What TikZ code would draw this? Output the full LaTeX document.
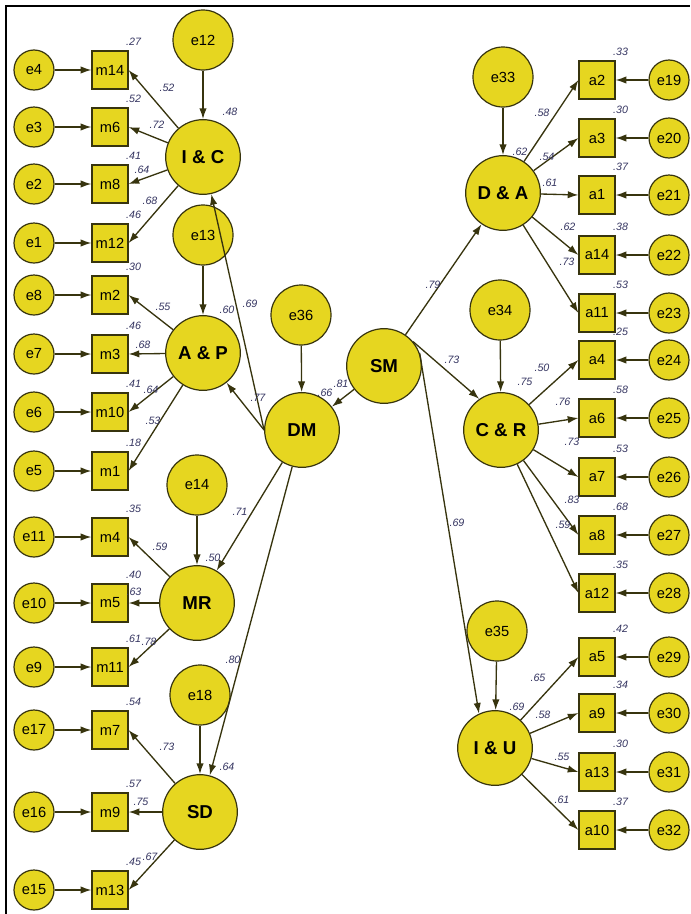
\documentclass[tikz,border=0pt]{standalone}
\usepackage{fontspec}
\setsansfont{Liberation Sans}
\usetikzlibrary{arrows.meta}
\definecolor{amosfill}{RGB}{230,214,32}
\definecolor{amosline}{RGB}{55,52,14}
\definecolor{amoslbl}{RGB}{52,52,96}
\tikzset{
  latent/.style={circle,draw=amosline,fill=amosfill,line width=0.9pt,minimum size=56pt,inner sep=0pt,font=\sffamily\bfseries\fontsize{14}{14}\selectfont},
  errbig/.style={circle,draw=amosline,fill=amosfill,line width=0.9pt,minimum size=45pt,inner sep=0pt,font=\sffamily\fontsize{11}{11}\selectfont},
  errsm/.style={errbig,minimum size=30pt},
  obs/.style={rectangle,draw=amosline,fill=amosfill,line width=0.9pt,minimum width=27pt,minimum height=28.5pt,inner sep=0pt,font=\sffamily\fontsize{11}{11}\selectfont},
  lbl/.style={font=\sffamily\itshape\fontsize{8}{8}\selectfont,text=amoslbl,inner sep=0pt},
  reg/.style={->,draw=amosline,line width=1pt}
}

\begin{document}
\begin{tikzpicture}[x=0.75pt,y=-0.75pt,>={Latex[length=8pt,width=5.5pt]}]
\useasboundingbox (0,0) rectangle (690,914);
%frame
\draw[line width=1.5pt] (6,914) -- (6,6) -- (690,6);
%latent variables
\node[latent] (IC) at (203,157) {I \& C};
\node[latent] (AP) at (203,353) {A \& P};
\node[latent] (MR) at (197,603) {MR};
\node[latent] (SD) at (200,812) {SD};
\node[latent] (DM) at (302,430) {DM};
\node[latent] (SM) at (384,366) {SM};
\node[latent] (DA) at (503,193) {D \& A};
\node[latent] (CR) at (501,430) {C \& R};
\node[latent] (IU) at (495,748) {I \& U};
%disturbances
\node[errbig] (e12) at (203,40) {e12};
\node[errbig] (e13) at (203,235) {e13};
\node[errbig] (e14) at (197,485) {e14};
\node[errbig] (e18) at (200,695) {e18};
\node[errbig] (e36) at (301,315) {e36};
\node[errbig] (e33) at (503,77) {e33};
\node[errbig] (e34) at (500,310) {e34};
\node[errbig] (e35) at (497,631) {e35};
\foreach \d/\f in {e12/IC,e13/AP,e14/MR,e18/SD,e36/DM,e33/DA,e34/CR,e35/IU}
\draw[reg] (\d) -- (\f);
%left indicators
\foreach \m/\e/\y/\rsq in {m14/e4/70/.27,m6/e3/127/.52,m8/e2/184/.41,m12/e1/243/.46,
  m2/e8/295/.30,m3/e7/354/.46,m10/e6/412/.41,m1/e5/471/.18,m4/e11/537/.35,
  m5/e10/603/.40,m11/e9/667/.61,m7/e17/730/.54,m9/e16/812/.57,m13/e15/890/.45}{
  \node[obs] (\m) at (110,\y) {\m};
  \node[errsm] (\e) at (34,\y) {\e};
  \draw[reg] (\e) -- (\m);
  \path (\m.north east) ++(5,-9) node[lbl] {\rsq};
}
%right indicators
\foreach \m/\e/\y/\rsq in {a2/e19/80/.33,a3/e20/138/.30,a1/e21/195/.37,a14/e22/255/.38,
  a11/e23/313/.53,a4/e24/360/.25,a6/e25/418/.58,a7/e26/477/.53,a8/e27/535/.68,
  a12/e28/593/.35,a5/e29/657/.42,a9/e30/713/.34,a13/e31/772/.30,a10/e32/830/.37}{
  \node[obs] (\m) at (597,\y) {\m};
  \node[errsm] (\e) at (669,\y) {\e};
  \draw[reg] (\e) -- (\m);
  \path (\m.north east) ++(5,-9) node[lbl] {\rsq};
}
%loadings
\foreach \f/\m/\lx/\ly/\v in {IC/m14/167/88/.52,IC/m6/157/125/.72,IC/m8/142/170/.64,IC/m12/150/201/.68,
  AP/m2/163/307/.55,AP/m3/143/345/.68,AP/m10/151/390/.64,AP/m1/153/421/.53,
  MR/m4/160/547/.59,MR/m5/134/592/.63,MR/m11/149/642/.78,
  SD/m7/167/747/.73,SD/m9/141/802/.75,SD/m13/150/857/.67}{
  \draw[reg] (\f) -- (\m.east);
  \node[lbl] at (\lx,\ly) {\v};
}
\foreach \f/\m/\lx/\ly/\v in {DA/a2/542/113/.58,DA/a3/547/157/.54,DA/a1/550/183/.61,DA/a14/568/227/.62,DA/a11/567/262/.73,
  CR/a4/542/368/.50,CR/a6/563/402/.76,CR/a7/572/442/.73,CR/a8/572/500/.83,CR/a12/563/525/.59,
  IU/a5/538/678/.65,IU/a9/543/715/.58,IU/a13/562/757/.55,IU/a10/562/800/.61}{
  \draw[reg] (\f) -- (\m.west);
  \node[lbl] at (\lx,\ly) {\v};
}
%structural paths
\draw[reg] (SM) -- (DM);
\draw[reg] (DM.west) -- (IC);
\draw[reg] (DM.west) -- (AP);
\draw[reg] (DM) -- (MR);
\draw[reg] (DM) -- (SD);
\draw[reg] (SM) -- (DA);
\draw[reg] (SM.40) -- (CR.125);
\draw[reg] (SM.20) -- (IU.115);
\node[lbl] at (230,112) {.48};
\node[lbl] at (227,310) {.60};
\node[lbl] at (250,304) {.69};
\node[lbl] at (258,398) {.77};
\node[lbl] at (325,393) {.66};
\node[lbl] at (341,384) {.81};
\node[lbl] at (240,512) {.71};
\node[lbl] at (213,558) {.50};
\node[lbl] at (233,660) {.80};
\node[lbl] at (227,767) {.64};
\node[lbl] at (433,285) {.79};
\node[lbl] at (452,360) {.73};
\node[lbl] at (457,523) {.69};
\node[lbl] at (520,152) {.62};
\node[lbl] at (525,382) {.75};
\node[lbl] at (517,707) {.69};
\end{tikzpicture}
\end{document}
